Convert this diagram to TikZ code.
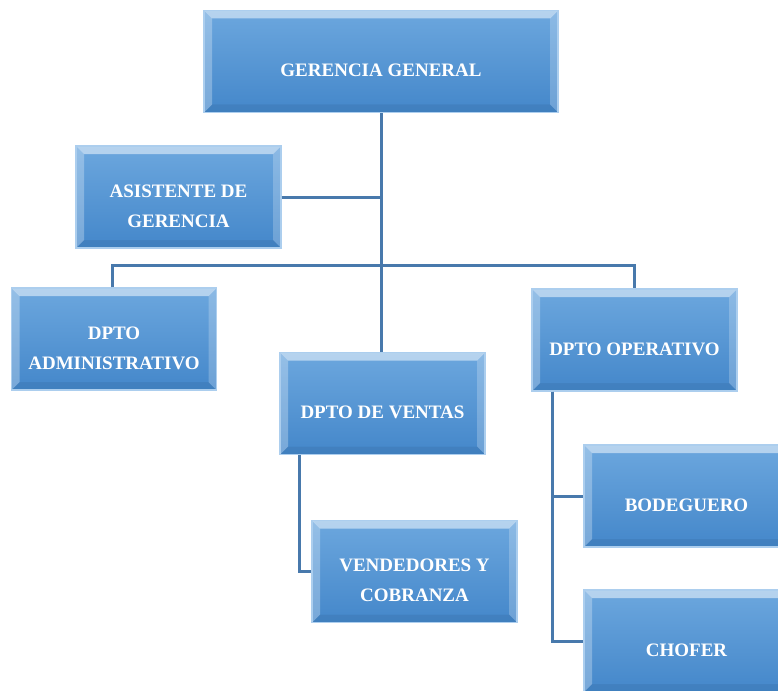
\documentclass[tikz,border=0pt]{standalone}
\usepackage{fontspec}
\setmainfont{Liberation Serif}
\usepackage{xcolor}
\definecolor{boxtop}{RGB}{108,167,222}
\definecolor{boxbot}{RGB}{68,135,202}
\definecolor{boxrim}{RGB}{172,206,238}
\definecolor{linkblue}{RGB}{72,121,172}
\usepackage{tikz}
\usetikzlibrary{positioning,arrows.meta,shapes}

\tikzset{
  orgbox/.style={draw=boxrim,line width=1.2pt,top color=boxtop,bottom color=boxbot,
        minimum width=205pt,minimum height=102pt,inner sep=0pt,
        path picture={
          \fill[white,opacity=0.5] (path picture bounding box.north west) -- (path picture bounding box.north east)
            -- ([shift={(-8pt,-8pt)}]path picture bounding box.north east) -- ([shift={(8pt,-8pt)}]path picture bounding box.north west) -- cycle;
          \fill[white,opacity=0.28] (path picture bounding box.north west) -- (path picture bounding box.south west)
            -- ([shift={(8pt,8pt)}]path picture bounding box.south west) -- ([shift={(8pt,-8pt)}]path picture bounding box.north west) -- cycle;
          \fill[white,opacity=0.22] (path picture bounding box.north east) -- (path picture bounding box.south east)
            -- ([shift={(-8pt,8pt)}]path picture bounding box.south east) -- ([shift={(-8pt,-8pt)}]path picture bounding box.north east) -- cycle;
          \fill[black,opacity=0.06] (path picture bounding box.south west) -- (path picture bounding box.south east)
            -- ([shift={(-8pt,8pt)}]path picture bounding box.south east) -- ([shift={(8pt,8pt)}]path picture bounding box.south west) -- cycle;
        }},
  boxtext/.style={text=white,font=\bfseries\fontsize{19}{30}\selectfont,align=center,yshift=-9pt},
  link/.style={draw=linkblue,line width=3pt}
}

\begin{document}
\begin{tikzpicture}
  \useasboundingbox (0,0) rectangle (778pt,-690pt);

  % cajas
  \node[orgbox,minimum width=354pt,label={[boxtext]center:GERENCIA GENERAL}] (gerencia) at (381pt,-61.5pt) {};
  \node[orgbox,label={[boxtext]center:{ASISTENTE DE\\GERENCIA}}] (asistente) at (178.5pt,-197pt) {};
  \node[orgbox,label={[boxtext]center:{DPTO\\ADMINISTRATIVO}}] (admin) at (114pt,-339pt) {};
  \node[orgbox,label={[boxtext]center:DPTO DE VENTAS}] (ventas) at (382.5pt,-403.5pt) {};
  \node[orgbox,label={[boxtext]center:DPTO OPERATIVO}] (operativo) at (634.5pt,-340pt) {};
  \node[orgbox,label={[boxtext]center:{VENDEDORES Y\\COBRANZA}}] (vendedores) at (414.5pt,-571.5pt) {};
  \node[orgbox,label={[boxtext]center:BODEGUERO}] (bodeguero) at (686.5pt,-496pt) {};
  \node[orgbox,label={[boxtext]center:CHOFER}] (chofer) at (686.5pt,-641pt) {};

  % lineas
  \draw[link] (gerencia.south) -- (gerencia.south |- ventas.north);
  \draw[link] (asistente.east) -- (asistente.east -| gerencia.south);
  \draw[link] ([xshift=-2pt]admin.north) -- ++(0,22pt) -| (operativo.north);
  \draw[link] ([xshift=20pt]ventas.south west) |- (vendedores.west);
  \draw[link] ([xshift=21pt]operativo.south west) |- (bodeguero.west);
  \draw[link] ([xshift=21pt]operativo.south west) |- (chofer.west);
\end{tikzpicture}
\end{document}
